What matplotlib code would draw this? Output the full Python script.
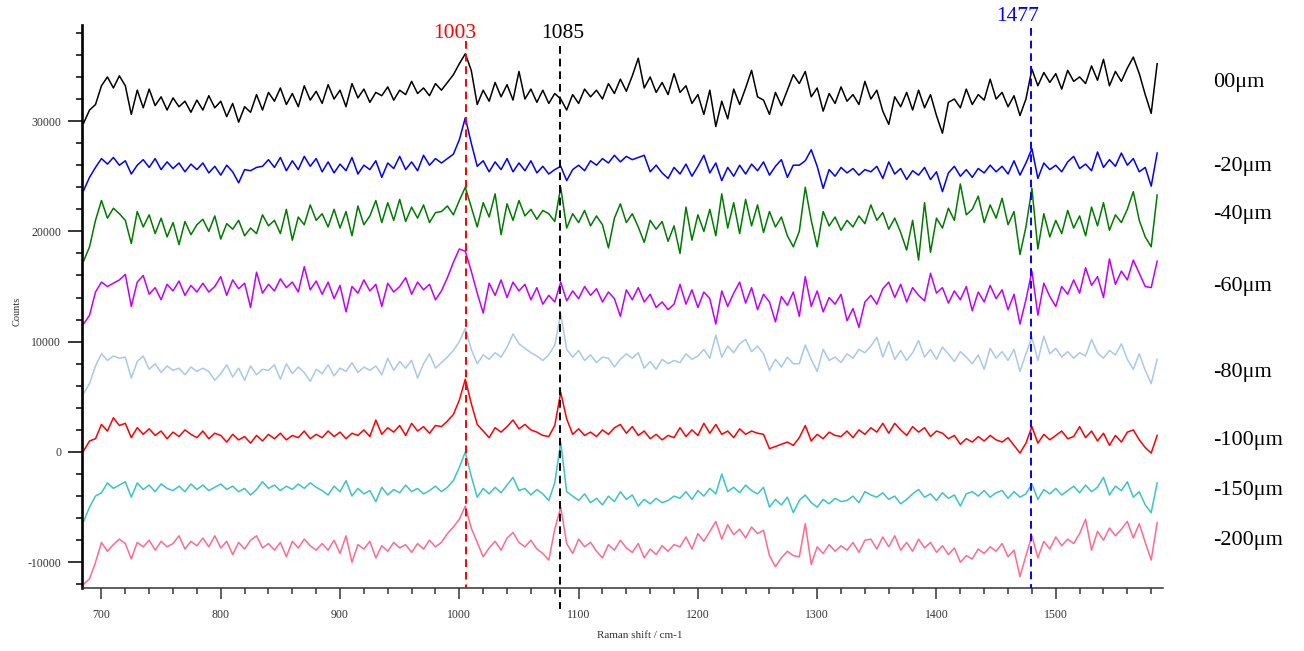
import numpy as np
import matplotlib
matplotlib.use("Agg")
import matplotlib.pyplot as plt
from matplotlib.ticker import MultipleLocator

plt.rcParams['font.family'] = ['Liberation Serif', 'DejaVu Serif']
plt.rcParams['axes.unicode_minus'] = False

# Raman shift grid (cm-1), one point every 5 cm-1
raman_shift = np.arange(685, 1590, 5)

# counts in thousands, rows of 100 cm-1
depth_00um = [29.8, 31.0, 31.5, 33.2, 34.0, 33.0, 34.1, 33.2, 30.6, 32.8, 31.2, 32.9, 31.4, 32.2, 31.0, 32.1, 31.3, 31.8, 30.8, 31.9,
              31.0, 32.3, 31.2, 31.8, 30.4, 31.6, 29.9, 31.3, 30.8, 32.4, 31.0, 32.6, 31.8, 33.0, 31.5, 32.5, 31.3, 33.2, 31.9, 32.7,
              31.6, 33.3, 32.0, 32.8, 31.3, 33.4, 32.1, 32.9, 31.7, 32.6, 32.3, 33.1, 31.9, 32.8, 32.4, 33.6, 32.5, 33.0, 32.3, 33.4,
              32.8, 33.5, 34.2, 35.2, 36.1, 34.6, 31.5, 32.8, 31.8, 33.5, 32.2, 33.3, 31.9, 34.5, 32.0, 32.9, 31.7, 32.8, 31.6, 32.5,
              32.0, 31.0, 32.4, 31.6, 32.9, 32.2, 32.8, 32.0, 33.4, 32.5, 33.8, 32.7, 34.1, 35.7, 33.0, 34.0, 32.6, 33.5, 32.4, 34.3,
              32.6, 33.2, 31.6, 32.4, 30.6, 32.8, 29.5, 31.8, 30.2, 32.9, 31.5, 33.0, 34.6, 32.2, 31.9, 30.6, 32.6, 31.4, 32.8, 34.2,
              33.4, 34.5, 32.2, 33.0, 30.9, 32.5, 31.6, 33.1, 31.8, 32.4, 31.5, 33.6, 32.0, 32.8, 30.9, 29.7, 32.2, 31.3, 32.6, 31.0,
              32.8, 31.2, 32.4, 30.5, 28.9, 31.7, 32.0, 31.2, 32.9, 31.5, 32.4, 31.9, 33.8, 32.0, 32.6, 31.3, 32.3, 30.5, 32.0, 34.7,
              33.2, 34.4, 33.5, 34.3, 32.9, 34.6, 33.6, 34.0, 33.4, 35.0, 33.7, 35.6, 33.2, 34.5, 33.6, 34.8, 35.8, 34.3, 32.4, 30.7,
              35.2]
depth_20um = [23.7, 24.9, 25.8, 26.6, 26.1, 26.7, 26.0, 26.4, 25.2, 26.0, 26.5, 25.8, 26.6, 25.6, 26.3, 25.7, 26.2, 25.4, 26.1, 25.6,
              26.2, 25.3, 25.9, 25.1, 26.0, 25.4, 24.4, 25.6, 25.5, 25.8, 25.9, 26.5, 25.8, 26.7, 25.5, 26.4, 25.6, 26.8, 25.9, 26.6,
              25.4, 26.3, 25.3, 26.1, 25.5, 26.7, 25.2, 26.0, 25.6, 26.4, 24.9, 26.2, 25.7, 26.8, 25.6, 26.3, 25.5, 26.9, 26.0, 26.6,
              26.2, 26.6, 27.0, 28.3, 30.3, 28.0, 25.9, 26.4, 25.4, 26.3, 25.6, 26.6, 25.4, 26.2, 25.5, 26.4, 25.3, 25.9, 25.2, 25.6,
              25.9, 24.6, 25.6, 26.0, 25.5, 26.4, 26.0, 26.6, 26.2, 26.9, 26.3, 26.8, 26.5, 26.7, 26.9, 25.4, 26.0, 25.3, 24.8, 25.8,
              25.2, 26.1, 25.0, 25.9, 26.9, 25.3, 26.2, 24.6, 25.8, 25.0, 26.0, 25.2, 26.1, 25.5, 26.3, 25.1, 25.9, 26.5, 24.9, 26.0,
              26.0, 26.4, 27.4, 25.9, 23.9, 25.6, 25.0, 25.8, 25.3, 25.7, 25.1, 25.6, 25.4, 25.9, 24.8, 26.3, 25.2, 25.7, 24.7, 25.5,
              25.1, 25.8, 24.7, 25.4, 23.6, 25.3, 25.9, 25.0, 25.6, 24.9, 25.7, 25.3, 26.0, 25.4, 25.9, 25.2, 26.4, 25.1, 26.2, 27.5,
              24.8, 26.2, 25.6, 26.0, 25.4, 26.3, 26.8, 25.7, 26.1, 25.5, 27.2, 25.8, 26.5, 25.9, 27.1, 26.0, 26.6, 25.4, 25.8, 24.1,
              27.1]
depth_40um = [17.3, 18.6, 21.0, 22.8, 21.2, 22.1, 21.6, 21.0, 18.9, 21.8, 20.4, 21.5, 19.8, 21.2, 19.5, 20.8, 18.8, 20.9, 19.7, 20.6,
              21.1, 20.0, 21.4, 19.3, 20.7, 20.2, 21.0, 19.6, 20.3, 19.8, 21.5, 20.5, 21.0, 19.8, 22.0, 19.2, 21.3, 20.6, 22.4, 21.0,
              21.6, 20.4, 22.0, 20.3, 21.8, 19.6, 22.3, 20.6, 21.4, 22.8, 20.8, 22.6, 21.0, 22.9, 20.9, 22.2, 21.2, 22.4, 20.8, 21.7,
              21.8, 22.3, 21.5, 22.8, 24.0, 22.2, 20.4, 22.6, 21.3, 23.4, 19.7, 22.5, 21.0, 22.8, 21.4, 22.0, 21.1, 21.9, 21.6, 20.9,
              24.0, 20.3, 21.6, 20.8, 21.9, 20.5, 21.4, 20.6, 18.5, 21.2, 22.5, 20.8, 21.6, 20.4, 19.0, 21.0, 20.2, 20.9, 19.1, 20.5,
              18.0, 22.2, 19.2, 21.5, 20.0, 22.0, 19.6, 23.4, 20.3, 22.6, 19.8, 22.9, 20.5, 22.4, 19.9, 21.8, 20.4, 21.3, 19.6, 18.6,
              20.0, 24.0, 21.0, 18.6, 21.8, 20.5, 21.3, 20.1, 21.0, 20.4, 21.4, 20.7, 22.4, 21.0, 21.7, 20.2, 21.2, 19.9, 18.3, 21.0,
              17.4, 22.6, 18.1, 21.2, 20.3, 22.1, 21.0, 24.3, 21.5, 22.0, 23.2, 20.8, 22.4, 21.2, 23.0, 20.6, 21.8, 17.9, 20.4, 23.9,
              18.4, 21.6, 19.5, 21.0, 19.8, 21.9, 20.3, 21.4, 19.6, 22.2, 20.5, 22.6, 20.1, 21.5, 20.8, 22.0, 23.6, 21.0, 19.5, 18.6,
              23.3]
depth_60um = [11.6, 12.4, 14.5, 15.4, 15.0, 15.3, 15.6, 16.1, 13.2, 15.4, 16.0, 14.3, 14.9, 13.8, 15.2, 14.6, 15.5, 14.2, 15.1, 14.5,
              15.3, 14.5, 15.0, 15.9, 14.2, 15.6, 14.8, 15.3, 13.1, 16.3, 14.4, 15.2, 14.6, 15.7, 14.9, 15.4, 14.5, 16.8, 14.7, 15.5,
              14.3, 15.4, 13.9, 15.1, 12.7, 15.0, 14.4, 15.6, 14.6, 15.2, 13.2, 15.3, 14.5, 15.0, 15.8, 14.3, 15.4, 14.7, 15.2, 13.8,
              14.6, 15.8, 17.2, 18.4, 18.2, 16.4, 14.4, 12.6, 15.3, 14.2, 15.6, 14.0, 15.4, 14.6, 15.2, 13.8, 14.9, 13.4, 14.2, 13.6,
              15.4, 13.7, 14.6, 13.9, 15.0, 14.2, 14.8, 13.6, 14.5, 13.9, 12.3, 14.7, 13.8, 14.9, 13.6, 14.3, 13.1, 13.6, 12.9, 13.4,
              15.2, 13.4, 14.7, 13.1, 14.5, 13.9, 11.6, 14.6, 13.2, 14.4, 15.4, 13.5, 14.9, 12.9, 14.3, 13.6, 11.8, 14.1, 13.3, 14.5,
              12.3, 15.9, 13.2, 14.6, 12.7, 14.0, 13.4, 14.3, 11.9, 13.0, 11.3, 13.6, 14.2, 13.4, 14.8, 15.4, 14.0, 15.2, 13.6, 14.9,
              14.2, 13.7, 16.2, 14.4, 14.9, 13.5, 14.6, 13.8, 15.0, 12.8, 14.5, 13.6, 15.1, 13.9, 14.7, 12.9, 14.3, 11.6, 13.8, 16.4,
              12.4, 15.3, 14.1, 13.2, 15.0, 14.3, 15.6, 14.4, 16.7, 15.1, 15.9, 14.0, 17.5, 15.2, 16.4, 15.6, 17.4, 16.2, 15.0, 14.9,
              17.3]
depth_80um = [5.3, 6.2, 7.8, 8.9, 8.3, 8.7, 8.5, 8.6, 6.7, 8.2, 8.7, 7.5, 8.0, 7.2, 7.8, 7.4, 7.6, 7.0, 7.7, 7.3,
              7.6, 7.3, 6.5, 7.1, 7.9, 6.8, 7.6, 6.5, 7.8, 7.0, 7.5, 7.4, 7.9, 6.6, 8.0, 7.1, 7.7, 7.2, 6.4, 7.5,
              7.1, 7.9, 6.9, 7.6, 7.3, 8.1, 7.2, 7.7, 7.4, 7.8, 7.0, 8.5, 7.4, 8.2, 7.6, 8.3, 6.7, 8.0, 8.9, 7.6,
              8.1, 8.6, 9.2, 10.0, 11.2, 9.3, 8.0, 8.8, 8.4, 9.0, 8.6, 9.5, 10.7, 9.8, 9.4, 9.0, 8.7, 8.3, 8.8, 9.7,
              12.5, 9.3, 8.6, 9.2, 8.3, 8.8, 8.1, 8.6, 8.5, 7.7, 8.4, 8.9, 8.5, 9.0, 7.6, 8.2, 7.5, 8.4, 8.0, 8.3,
              8.1, 8.9, 8.4, 8.7, 9.3, 8.5, 10.6, 8.6, 9.6, 9.0, 9.8, 10.2, 9.1, 9.6, 8.9, 7.4, 8.4, 7.7, 8.6, 8.0,
              8.0, 9.7, 8.4, 7.3, 9.3, 8.3, 8.6, 8.1, 8.9, 8.5, 9.3, 9.0, 9.6, 10.4, 8.6, 10.0, 8.4, 9.2, 8.3, 9.0,
              10.1, 8.6, 9.3, 8.4, 9.5, 8.9, 8.2, 9.1, 8.6, 8.0, 8.8, 7.5, 9.4, 8.5, 9.1, 8.3, 9.3, 7.3, 8.9, 10.4,
              8.3, 10.5, 8.9, 9.4, 8.6, 9.1, 8.5, 9.0, 8.7, 10.2, 9.0, 8.5, 9.2, 8.8, 9.8, 8.4, 7.5, 8.9, 7.4, 6.2,
              8.4]
depth_100um = [0.1, 1.0, 1.2, 2.5, 1.9, 3.1, 2.4, 2.6, 1.3, 2.2, 1.6, 2.1, 1.5, 1.9, 1.2, 1.8, 1.4, 2.0, 1.6, 1.3,
               1.9, 1.2, 1.7, 1.5, 0.9, 1.6, 1.1, 1.4, 0.8, 1.5, 1.0, 1.6, 1.2, 1.7, 1.1, 1.5, 1.3, 1.9, 1.2, 1.6,
               1.3, 1.9, 1.4, 1.8, 1.2, 1.7, 1.5, 2.0, 1.4, 2.9, 1.6, 2.2, 1.8, 2.4, 1.5, 2.6, 1.9, 2.3, 1.7, 2.4,
               2.3, 2.8, 3.4, 4.7, 6.6, 4.4, 2.5, 1.9, 1.3, 2.2, 1.8, 2.3, 2.9, 2.1, 2.5, 2.0, 1.8, 1.5, 1.4, 2.4,
               5.4, 3.0, 1.6, 2.1, 1.5, 1.8, 1.4, 2.0, 1.6, 2.2, 2.5, 1.7, 2.3, 1.5, 1.9, 1.2, 1.6, 1.1, 1.5, 1.3,
               2.2, 1.4, 2.0, 1.5, 2.6, 1.7, 2.5, 1.6, 1.9, 1.3, 2.1, 1.6, 1.9, 1.7, 1.6, 0.3, 0.5, 0.7, 0.9, 0.6,
               1.3, 2.4, 1.0, 1.6, 1.2, 1.8, 1.5, 1.4, 1.9, 1.3, 2.0, 1.6, 2.2, 1.8, 2.6, 1.7, 2.6, 2.0, 1.5, 2.3,
               1.8, 2.2, 1.4, 1.9, 1.7, 1.2, 1.5, 0.7, 1.2, 0.9, 1.4, 1.0, 1.5, 1.1, 0.9, 1.3, 0.6, -0.1, 0.8, 2.3,
               0.8, 1.6, 1.1, 1.5, 1.9, 1.2, 1.4, 2.3, 1.3, 1.9, 1.0, 1.7, 0.6, 1.5, 0.9, 1.8, 2.0, 1.1, 0.4, -0.1,
               1.5]
depth_150um = [-6.3, -5.0, -4.0, -3.7, -2.8, -3.3, -3.0, -2.7, -4.1, -2.8, -3.4, -3.0, -3.6, -2.9, -3.3, -3.5, -3.1, -3.6, -2.9, -3.4,
               -3.0, -3.5, -3.2, -2.9, -3.4, -3.1, -3.6, -3.3, -3.9, -3.4, -2.7, -3.3, -3.0, -3.5, -3.1, -3.4, -2.9, -3.3, -2.8, -3.2,
               -3.5, -3.9, -3.1, -3.6, -2.6, -4.0, -3.3, -3.8, -3.5, -4.5, -3.2, -3.9, -3.4, -3.7, -3.0, -3.6, -3.3, -3.8, -3.5, -3.1,
               -3.6, -3.2, -2.6, -1.4, 0.0, -2.2, -4.1, -3.3, -3.8, -3.2, -3.7, -3.0, -2.3, -3.5, -3.3, -3.9, -3.4, -3.8, -4.4, -2.8,
               0.9, -3.6, -4.0, -4.4, -3.8, -4.6, -4.2, -4.8, -4.0, -4.5, -3.6, -4.3, -3.9, -4.9, -4.3, -4.7, -4.2, -4.6, -4.4, -4.0,
               -4.2, -3.6, -4.3, -3.5, -4.0, -3.3, -3.8, -2.0, -3.6, -3.2, -3.7, -3.0, -3.5, -3.8, -3.2, -5.0, -4.3, -4.8, -4.1, -5.5,
               -4.4, -3.9, -4.6, -5.0, -4.3, -4.7, -4.2, -4.5, -4.4, -4.0, -4.6, -3.6, -3.9, -4.1, -3.7, -4.3, -4.0, -4.7, -4.3, -3.8,
               -3.4, -4.1, -3.8, -4.4, -3.7, -4.2, -3.9, -4.9, -3.8, -3.6, -4.0, -3.5, -4.1, -3.7, -3.5, -4.2, -3.6, -4.1, -3.8, -2.9,
               -4.3, -3.4, -3.8, -3.3, -3.9, -3.5, -3.1, -3.7, -3.0, -3.6, -3.2, -2.3, -3.9, -3.1, -3.5, -2.7, -4.1, -3.6, -4.8, -5.5,
               -2.8]
depth_200um = [-12.0, -11.5, -10.0, -8.2, -9.0, -8.4, -7.9, -8.3, -9.7, -8.2, -8.6, -8.0, -8.9, -8.1, -8.6, -8.3, -7.6, -8.8, -8.1, -8.5,
               -7.8, -8.6, -7.6, -8.7, -8.1, -9.3, -8.2, -8.8, -8.0, -7.6, -8.7, -8.3, -8.9, -8.2, -9.5, -8.1, -8.7, -7.9, -8.5, -8.9,
               -8.3, -8.9, -8.0, -9.2, -7.6, -10.0, -8.4, -8.8, -8.1, -9.6, -8.5, -9.0, -8.2, -8.7, -8.4, -9.1, -8.3, -8.8, -8.0, -8.6,
               -8.2, -7.4, -6.8, -6.1, -4.9, -6.9, -8.2, -9.5, -8.7, -8.1, -8.9, -7.8, -7.3, -8.2, -8.6, -8.0, -8.8, -9.2, -9.8, -7.0,
               -5.0, -8.3, -9.2, -7.9, -8.6, -8.2, -9.0, -9.6, -8.4, -8.9, -8.0, -8.7, -9.1, -8.3, -9.6, -8.8, -9.3, -8.5, -9.0, -8.4,
               -8.6, -7.7, -8.8, -7.4, -8.1, -7.2, -6.3, -7.9, -6.6, -7.5, -7.0, -7.8, -6.8, -7.4, -7.1, -9.4, -10.4, -9.6, -9.0, -9.4,
               -9.5, -6.5, -10.2, -8.6, -9.2, -8.4, -9.0, -8.5, -8.9, -8.2, -9.1, -8.0, -7.9, -8.8, -7.7, -8.6, -7.6, -8.9, -8.2, -9.0,
               -7.9, -8.7, -8.2, -9.1, -8.5, -9.3, -8.7, -10.0, -9.4, -9.7, -8.8, -9.2, -8.6, -9.0, -8.3, -9.5, -8.9, -11.3, -9.4, -7.6,
               -9.6, -8.1, -8.8, -7.7, -8.5, -7.9, -8.3, -7.4, -6.1, -8.9, -7.2, -8.0, -6.9, -7.6, -7.0, -6.3, -7.8, -6.5, -8.2, -9.8,
               -6.4]

depth_labels = ["00\u03bcm", "-20\u03bcm", "-40\u03bcm", "-60\u03bcm", "-80\u03bcm", "-100\u03bcm", "-150\u03bcm", "-200\u03bcm"]
peak_positions = [1006, 1084, 1479]
peak_labels = ["1003", "1085", "1477"]

series = [depth_00um, depth_20um, depth_40um, depth_60um, depth_80um, depth_100um, depth_150um, depth_200um]
colors = ["#000000", "#0000ff", "#007a00", "#bf00ff", "#a8c8ee", "#ff0000", "#3cc4c4", "#ff6a8e"]
label_ypix = [82, 167, 215, 286, 373, 440, 491, 541]

fig = plt.figure(figsize=(13.04, 6.51), dpi=100)
ax = fig.add_axes([0.0629, 0.0968, 0.8287, 0.8648])

for vals, c in zip(series, colors):
    y = np.array(vals) * 1000
    assert len(y) == len(raman_shift)
    ax.plot(raman_shift, y, color=c, lw=1.1)

# peak markers, they run a bit outside the axes like in the original
peak_colors = ["#ff0000", "#000000", "#0000ff"]
line_ranges = [(37300, -12300), (36800, -14200), (38400, -12300)]
text_pos = [(996, 37900), (1087, 37900), (1468, 39450)]
for p, lab, c, (y0, y1), (tx, ty) in zip(peak_positions, peak_labels, peak_colors, line_ranges, text_pos):
    ax.plot([p, p], [y0, y1], color=c, lw=1.4, ls=(0, (4, 2.5)), clip_on=False, zorder=5)
    ax.text(tx, ty, lab, color=c, fontsize=15.5, ha="center", va="center")

ax.set_xlim(683.7, 1589.6)
ax.set_ylim(-12330, 38710)

ax.spines["top"].set_visible(False)
ax.spines["right"].set_visible(False)
ax.spines["left"].set_linewidth(1.9)
ax.spines["bottom"].set_linewidth(1.1)
ax.spines["bottom"].set_color("#333333")

ax.xaxis.set_major_locator(MultipleLocator(100))
ax.xaxis.set_minor_locator(MultipleLocator(20))
ax.yaxis.set_major_locator(MultipleLocator(10000))
ax.yaxis.set_minor_locator(MultipleLocator(2000))
ax.tick_params(axis="y", which="major", direction="out", length=10, width=1.1, labelsize=8.5, pad=5, labelcolor="#333333")
ax.tick_params(axis="y", which="minor", direction="out", length=4.3, width=1.1)
ax.tick_params(axis="x", which="major", direction="out", length=8, width=1.1, labelsize=8.5, pad=7, labelcolor="#333333", color="#333333")
ax.tick_params(axis="x", which="minor", direction="out", length=4.3, width=1.1, color="#333333")
ax.set_xticks([t for t in range(700, 1600, 100)])

fig.text(17 / 1304, 1 - 311 / 651, "Counts", rotation=90, fontsize=7.5, color="#333333", ha="center", va="center")
fig.text(640 / 1304, 1 - 636 / 651, "Raman shift / cm-1", fontsize=8, color="#333333", ha="center", va="center")

for lab, yp in zip(depth_labels, label_ypix):
    fig.text(1213 / 1304, 1 - yp / 651, lab, fontsize=16, ha="left", va="center")

fig.savefig("out.png", dpi=100)
